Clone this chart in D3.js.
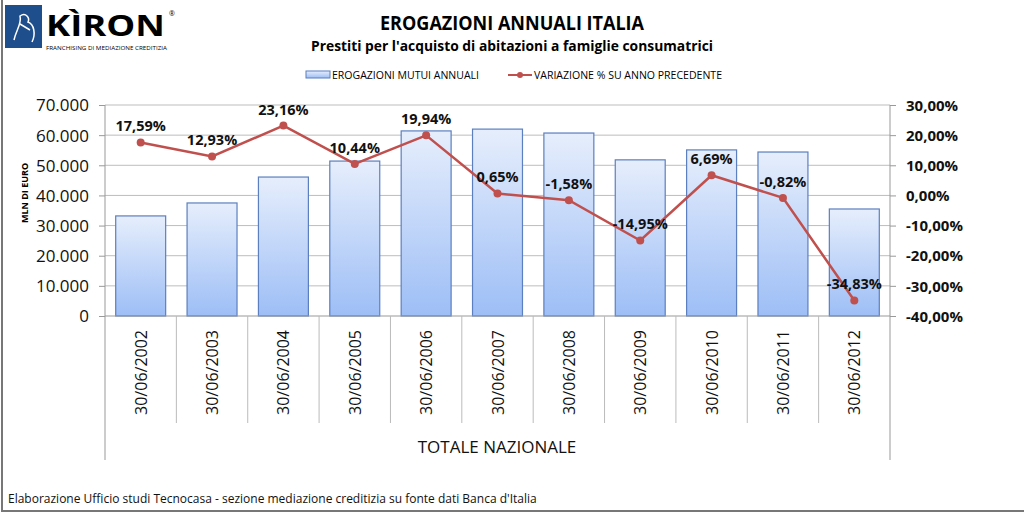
<!DOCTYPE html>
<html><head><meta charset="utf-8">
<script src="https://cdn.jsdelivr.net/npm/d3@7"></script>
<style>body{margin:0;background:#fff}svg{display:block}text{font-family:"Open Sans",sans-serif}</style>
</head><body><svg id="c" width="1024" height="513"></svg>
<script>
const categories=["30/06/2002","30/06/2003","30/06/2004","30/06/2005","30/06/2006","30/06/2007","30/06/2008","30/06/2009","30/06/2010","30/06/2011","30/06/2012"];
const erogazioni=[33200,37500,46100,51400,61400,62000,60700,51800,55100,54400,35500];
const variazione=[17.59,12.93,23.16,10.44,19.94,0.65,-1.58,-14.95,6.69,-0.82,-34.83];
const leftTicks=[0,10000,20000,30000,40000,50000,60000,70000];
const rightTicks=[-40,-30,-20,-10,0,10,20,30];

const svg=d3.select("#c");
const L=105,R=890,T=105,B=316;
const x=d3.scaleBand().domain(categories).range([L,R]).paddingInner(0.3).paddingOuter(0.15);
const xb=d3.scaleBand().domain(categories).range([L,R]);
const y=d3.scaleLinear().domain([0,70000]).range([B,T]);
const y2=d3.scaleLinear().domain([-40,30]).range([B,T]);
const fmtL=d=>d3.format(",")(d).replace(/,/g,".");
const fmtP=d=>d.toFixed(2).replace(".",",")+"%";

const defs=svg.append("defs");
const g=defs.append("linearGradient").attr("id","bg").attr("x1",0).attr("y1",0).attr("x2",0).attr("y2",1);
g.append("stop").attr("offset","0%").attr("stop-color","#e6eefc");
g.append("stop").attr("offset","100%").attr("stop-color","#9dbef6");

// frame
svg.append("line").attr("x1",2).attr("x2",2).attr("y1",0).attr("y2",512).attr("stroke","#777").attr("stroke-width",2);
svg.append("line").attr("x1",2).attr("x2",1024).attr("y1",511).attr("y2",511).attr("stroke","#777").attr("stroke-width",2);

// logo
svg.append("rect").attr("x",5).attr("y",5).attr("width",37).attr("height",43).attr("fill","#1f4e8c");
svg.append("path").attr("d","M14 40 C16 30 22 24 20 16 C26 12 30 18 28 22 C34 24 36 34 32 42 M20 24 L30 30").attr("fill","none").attr("stroke","#fff").attr("stroke-width",1.5);
svg.append("text").attr("x",46).attr("y",36).attr("font-size",29).attr("font-weight","bold").attr("font-family","Liberation Sans").attr("textLength",119).attr("lengthAdjust","spacingAndGlyphs").text("KÌRON");
svg.append("text").attr("x",169).attr("y",16).attr("font-size",7).text("®");
svg.append("text").attr("x",46).attr("y",50).attr("font-size",6).attr("textLength",121).attr("lengthAdjust","spacingAndGlyphs").text("FRANCHISING DI MEDIAZIONE CREDITIZIA");

// titles
svg.append("text").attr("x",512).attr("y",30).attr("text-anchor","middle").attr("font-weight","bold").attr("font-size",20).attr("textLength",264).attr("lengthAdjust","spacingAndGlyphs").text("EROGAZIONI ANNUALI ITALIA");
svg.append("text").attr("x",512).attr("y",51).attr("text-anchor","middle").attr("font-weight","bold").attr("font-size",15).attr("textLength",402).attr("lengthAdjust","spacingAndGlyphs").text("Prestiti per l'acquisto di abitazioni a famiglie consumatrici");

// legend
svg.append("rect").attr("x",306).attr("y",71).attr("width",24).attr("height",7).attr("fill","url(#bg)").attr("stroke","#5b7fbf");
svg.append("text").attr("x",332).attr("y",79).attr("font-size",11).attr("textLength",147).attr("lengthAdjust","spacingAndGlyphs").text("EROGAZIONI MUTUI ANNUALI");
svg.append("line").attr("x1",508).attr("x2",532).attr("y1",75).attr("y2",75).attr("stroke","#c0504d").attr("stroke-width",2);
svg.append("circle").attr("cx",520).attr("cy",75).attr("r",3).attr("fill","#c0504d");
svg.append("text").attr("x",534).attr("y",79).attr("font-size",11).attr("textLength",188).attr("lengthAdjust","spacingAndGlyphs").text("VARIAZIONE % SU ANNO PRECEDENTE");

// gridlines
svg.append("g").selectAll("line").data(leftTicks.slice(1)).join("line")
 .attr("x1",L).attr("x2",R).attr("y1",d=>y(d)).attr("y2",d=>y(d)).attr("stroke","#bdbdbd").attr("stroke-width",1);

// bars
svg.append("g").selectAll("rect").data(categories).join("rect")
 .attr("x",d=>x(d)).attr("width",x.bandwidth())
 .attr("y",(d,i)=>y(erogazioni[i])).attr("height",(d,i)=>B-y(erogazioni[i]))
 .attr("fill","url(#bg)").attr("stroke","#5b7fbf").attr("stroke-width",1.2);

// axes
const ax=svg.append("g").attr("transform",`translate(${L},0)`).call(d3.axisLeft(y).tickValues(leftTicks).tickFormat(fmtL).tickSize(6).tickPadding(10));
ax.select(".domain").remove();
ax.selectAll("line").attr("stroke","#999");
ax.selectAll("text").attr("font-size",17).attr("fill","#111").attr("dy","0.35em");
const ax2=svg.append("g").attr("transform",`translate(${R},0)`).call(d3.axisRight(y2).tickValues(rightTicks).tickFormat(fmtP).tickSize(6).tickPadding(10));
ax2.select(".domain").remove();
ax2.selectAll("line").attr("stroke","#999");
ax2.selectAll("text").attr("font-size",15).attr("font-weight","bold").attr("fill","#111").attr("dy","0.35em");

svg.append("line").attr("x1",L).attr("x2",L).attr("y1",T).attr("y2",460).attr("stroke","#999");
svg.append("line").attr("x1",R).attr("x2",R).attr("y1",T).attr("y2",460).attr("stroke","#999");
svg.append("line").attr("x1",L).attr("x2",R).attr("y1",B).attr("y2",B).attr("stroke","#999");
svg.append("g").selectAll("line").data(categories.slice(1)).join("line")
 .attr("x1",d=>xb(d)).attr("x2",d=>xb(d)).attr("y1",B).attr("y2",423).attr("stroke","#bbb");

// x labels
svg.append("g").selectAll("text").data(categories).join("text")
 .attr("transform",d=>`translate(${xb(d)+xb.bandwidth()/2+6},330) rotate(-90)`)
 .attr("text-anchor","end").attr("font-size",16).attr("fill","#111").text(d=>d);

svg.append("text").attr("x",497).attr("y",453).attr("text-anchor","middle").attr("font-size",17).attr("fill","#111").text("TOTALE NAZIONALE");
svg.append("text").attr("transform","translate(28,193) rotate(-90)").attr("text-anchor","middle").attr("font-size",9).attr("font-weight","bold").text("MLN DI EURO");

// line
const cx=d=>xb(d)+xb.bandwidth()/2;
svg.append("path").datum(categories).attr("fill","none").attr("stroke","#c0504d").attr("stroke-width",2.5)
 .attr("d",d3.line().x(d=>cx(d)).y((d,i)=>y2(variazione[i])));
svg.append("g").selectAll("circle").data(categories).join("circle")
 .attr("cx",d=>cx(d)).attr("cy",(d,i)=>y2(variazione[i])).attr("r",4).attr("fill","#c0504d");
svg.append("g").selectAll("text").data(categories).join("text")
 .attr("x",d=>cx(d)).attr("y",(d,i)=>y2(variazione[i])-11).attr("text-anchor","middle")
 .attr("font-size",14.5).attr("font-weight","bold").attr("fill","#111").text((d,i)=>fmtP(variazione[i]));

svg.append("text").attr("x",8).attr("y",503).attr("font-size",12).attr("fill","#111").text("Elaborazione Ufficio studi Tecnocasa - sezione mediazione creditizia su fonte dati Banca d'Italia");
</script></body></html>
